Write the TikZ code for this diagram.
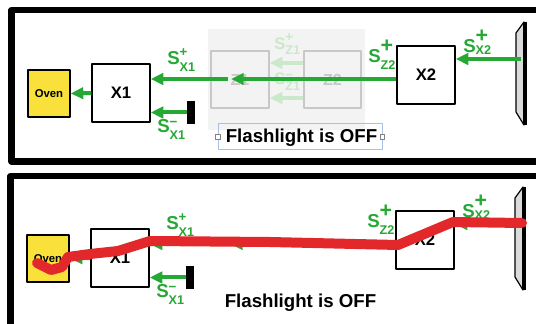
\documentclass[tikz,border=0pt]{standalone}
\usepackage{fontspec}
\setmainfont{Liberation Sans}
\usetikzlibrary{arrows.meta,positioning,calc}

\definecolor{sigreen}{RGB}{38,168,52}
\definecolor{ghostgreen}{RGB}{202,232,202}
\definecolor{ovenyellow}{RGB}{249,224,58}
\definecolor{beamred}{RGB}{226,40,42}
\definecolor{ghostgray}{RGB}{243,243,243}
\definecolor{ghostline}{RGB}{200,200,200}
\definecolor{selblue}{RGB}{170,192,232}

% S with stacked super- and subscript: #1 sup, #2 raise, #3 sub, #4 lower
\newcommand{\sig}[4]{%
  S\rlap{\raisebox{#2}{#1}}{\fontsize{9.5}{10}\selectfont\raisebox{-#4}{#3}}}
\newcommand{\smplus}{{\fontsize{10}{10}\selectfont +}}
\newcommand{\smminus}{{\fontsize{10}{10}\selectfont −}}
\newcommand{\bigplus}{{\fontsize{16}{16}\selectfont\bfseries +}}

\begin{document}
\begin{tikzpicture}[
  x=0.75pt, y=-0.75pt,
  font=\bfseries,
  line join=round,
  blockbox/.style={
    rectangle,
    draw=black,
    line width=1.5pt,
    fill=white,
    minimum width=43pt,
    minimum height=43pt,
    font=\fontsize{12.5}{13}\selectfont\bfseries
  },
  ovenbox/.style={
    blockbox,
    fill=ovenyellow,
    minimum width=31pt,
    minimum height=35pt,
    font=\fontsize{8.5}{9}\selectfont\bfseries
  },
  ghostbox/.style={
    blockbox,
    draw=ghostline,
    fill=ghostgray,
    text=ghostline,
    font=\fontsize{12}{13}\selectfont\bfseries
  },
  stopbar/.style={
    rectangle,
    fill=black,
    inner sep=0pt,
    minimum width=6pt,
    minimum height=17pt
  },
  sigarrow/.style={
    -{Triangle[length=9.5pt,width=8.5pt]},
    line width=3pt,
    draw=sigreen
  },
  ghostarrow/.style={
    sigarrow,
    draw=ghostgreen
  },
  siglbl/.style={
    anchor=base west,
    inner sep=0pt,
    text=sigreen,
    font=\fontsize{14}{14}\selectfont\bfseries
  },
  ghostlbl/.style={
    siglbl,
    text=ghostgreen,
    font=\fontsize{12.5}{13}\selectfont\bfseries
  },
  flashlbl/.style={
    inner sep=0pt,
    font=\fontsize{14}{15}\selectfont\bfseries
  },
  handle/.style={
    rectangle,
    draw=gray,
    fill=white,
    line width=0.4pt,
    inner sep=0pt,
    minimum size=3.5pt
  },
  frame/.style={
    draw=black,
    line width=4.8pt
  },
  beam/.style={
    draw=beamred,
    line width=7.5pt,
    line cap=round
  }
]

\path[use as bounding box] (0,0) rectangle (536,324);
\clip (0,0) rectangle (536,324);

\draw[frame] (11.5,10) rectangle (560,161.5);
\draw[frame] (10.5,176) rectangle (560,327);

% ghost stage in the upper panel
\fill[ghostgray] (208,29) rectangle (365,130);
\node[ghostbox] (zone) at (240,79.5) {Z1};
\node[ghostbox] (ztwo) at (332.5,79.5) {Z2};
\draw[ghostarrow] ([yshift=12.4pt]ztwo.west) -- ([yshift=12.4pt]zone.east);
\draw[ghostarrow] ([yshift=-13.9pt]ztwo.west) -- ([yshift=-13.9pt]zone.east);
\node[ghostlbl] (lblzp) at (274,50) {\sig{\smplus}{6pt}{Z1}{3.5pt}};
\node[ghostlbl] (lblzm) at (274,85) {\sig{\smminus}{4pt}{Z1}{4.5pt}};

\foreach \p/\dx/\dy in {t/0/0, b/-1/165}{
\begin{scope}[shift={(\dx,\dy)}]
  \node[ovenbox] (oven\p) at (49,93.5) {Oven};
  \node[blockbox] (xone\p) at (121,93) {X1};
  \node[blockbox] (xtwo\p) at (426,75) {X2};
  \node[stopbar] (bar\p) at (191,112.5) {};
  \coordinate (zmid\p) at (228,79);
  \coordinate (zhead\p) at (231,79);
  \coordinate (mirror\p) at (521,59);

  \filldraw[fill=gray!28, draw=black, line width=0.9pt]
    (516,33) -- (524,22) -- (524,125) -- (516,112) -- cycle;
  \draw[line width=2.4pt] (525,22) -- (525,125);

  \draw[sigarrow] (xone\p.west) -- (oven\p.east);
  \draw[sigarrow] (zmid\p) -- (zmid\p -| xone\p.east);
  \draw[sigarrow] (zhead\p -| xtwo\p.west) -- (zhead\p);
  \draw[sigarrow] (bar\p.west) -- (bar\p.west -| xone\p.east);
  \draw[sigarrow] (mirror\p) -- (mirror\p -| xtwo\p.east);

  \node[siglbl] (lblxp\p) at (167,65) {\sig{\smplus}{6.7pt}{X1}{5pt}};
  \node[siglbl] (lblxm\p) at (157,133) {\sig{\smminus}{5pt}{X1}{5pt}};
  \node[siglbl] (lblzz\p) at (368,63) {\sig{\bigplus}{7.5pt}{Z2}{5pt}};
  \node[siglbl] (lblxx\p) at (463,53) {\sig{\bigplus}{7.5pt}{X2}{1pt}};

  \node[flashlbl] (flash\p) at (301.5,138) {Flashlight is OFF};
\end{scope}
}

% selection marks round the upper caption
\node[draw=selblue, line width=0.6pt, minimum width=123pt, minimum height=20pt,
  inner sep=0pt] (selbox) at (300,136.5) {};
\node[handle] (hleft) at (selbox.west) {};
\node[handle] (hright) at (selbox.east) {};

% beam in the lower panel
\draw[beam] (37,263) -- (51,270) -- (62,267) -- (68,257) -- (90,254)
  -- (118,251) -- (150,241) -- (270,242) -- (398,245) -- (453,222) -- (522,223);

\end{tikzpicture}
\end{document}
